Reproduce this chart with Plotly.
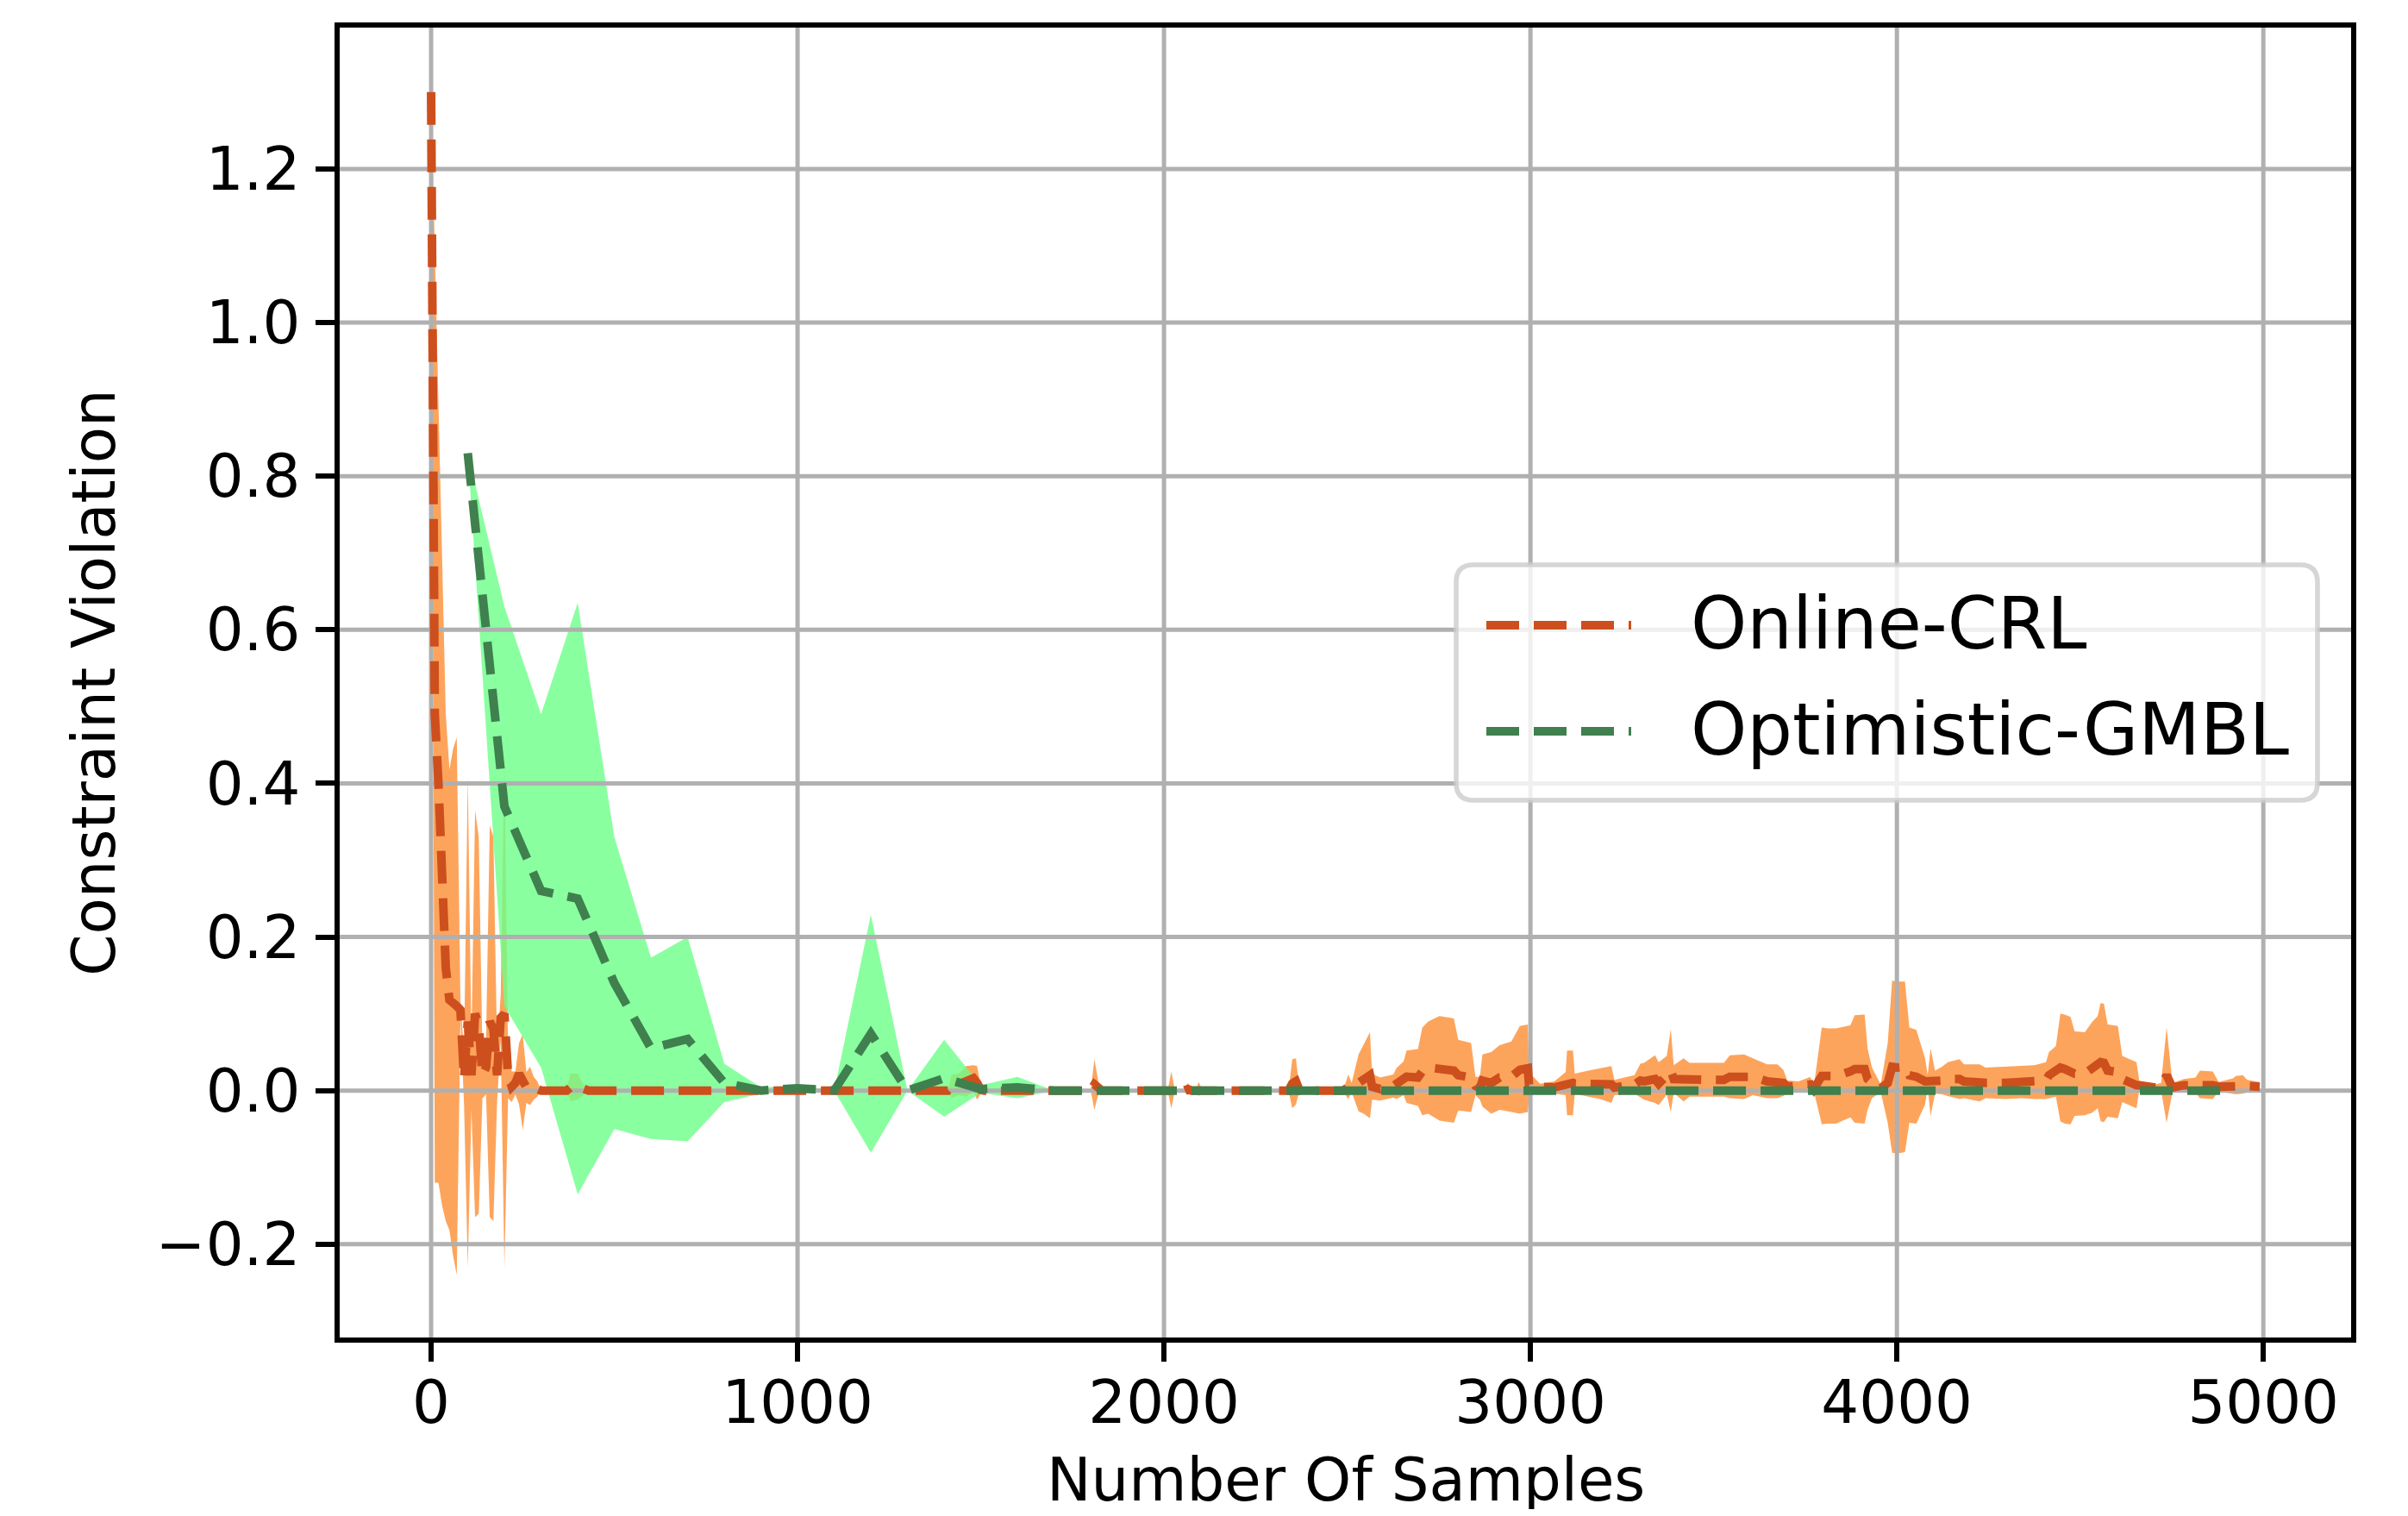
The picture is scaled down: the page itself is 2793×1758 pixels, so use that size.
import numpy as np
import plotly.graph_objects as go

# ---------------- data ----------------
x_ticks = [0, 1000, 2000, 3000, 4000, 5000]
x_ticklabels = ["0", "1000", "2000", "3000", "4000", "5000"]
y_ticks = [-0.2, 0.0, 0.2, 0.4, 0.6, 0.8, 1.0, 1.2]
y_ticklabels = ["\u22120.2", "0.0", "0.2", "0.4", "0.6", "0.8", "1.0", "1.2"]
x_title = "Number Of Samples"
y_title = "Constraint Violation"

# Optimistic-GMBL (mean +/- std)
gmbl_x = [100, 200, 300, 400, 500, 600, 700, 800, 900, 1000, 1100, 1200, 1300, 1400, 1500,
          1600, 1700, 1800, 1900, 2000, 2100, 2200, 2300, 2400, 2500, 2600, 2700, 2800, 2900,
          3000, 3100, 3200, 3300, 3400, 3500, 3600, 3700, 3800, 3900, 4000, 4100, 4200, 4300,
          4400, 4500, 4600, 4700, 4800, 4900]
gmbl_mean = [0.830, 0.370, 0.260, 0.250, 0.140, 0.055, 0.067, 0.010, 0.000, 0.003, 0.000, 0.074,
             0.000, 0.016, 0.002, 0.004, 0.000, 0.000, 0.000, 0.000, 0.000, 0.000, 0.000, 0.000,
             0.000, 0.000, 0.000, 0.000, 0.000, 0.000, 0.000, 0.000, 0.000, 0.000, 0.000, 0.000,
             0.000, 0.000, 0.000, 0.000, 0.000, 0.000, 0.000, 0.000, 0.000, 0.000, 0.000, 0.000,
             0.000]
gmbl_std = [0.000, 0.260, 0.230, 0.385, 0.190, 0.118, 0.133, 0.025, 0.004, 0.004, 0.000, 0.155,
            0.000, 0.050, 0.005, 0.014, 0.000, 0.000, 0.000, 0.000, 0.000, 0.000, 0.000, 0.000,
            0.000, 0.000, 0.000, 0.000, 0.000, 0.000, 0.000, 0.000, 0.000, 0.000, 0.000, 0.000,
            0.000, 0.000, 0.000, 0.000, 0.000, 0.000, 0.000, 0.000, 0.000, 0.000, 0.000, 0.000,
            0.000]

# Online-CRL (mean +/- std)
crl_x = [0, 10, 20, 30, 40, 50, 60, 70, 80, 90, 100, 110, 120, 130, 140, 150, 160, 170, 180, 190,
         200, 210, 220, 230, 240, 250, 260, 270, 280, 290, 300,
         370, 380, 400, 420, 430,
         1410, 1420, 1440, 1460, 1480, 1490, 1500, 1510,
         1800, 1810, 1820, 1830,
         2010, 2020, 2030, 2055, 2065, 2075, 2085, 2095, 2105,
         2340, 2350, 2360, 2370,
         2440, 2490, 2503, 2512, 2531, 2545, 2562, 2568, 2590, 2626, 2634, 2654, 2662, 2693, 2705,
         2721, 2752, 2791, 2803, 2838, 2850, 2862, 2869, 2893, 2916, 2948, 2971, 2993, 2996, 3026,
         3065, 3096, 3100, 3116, 3121, 3158, 3190, 3221, 3229, 3284, 3300,
         3310, 3340, 3350, 3372, 3383, 3391, 3418, 3434, 3481, 3528, 3544, 3583, 3607, 3646, 3674,
         3690, 3701, 3732, 3764, 3773, 3795, 3811, 3834, 3873, 3885, 3912, 3920, 3932, 3956, 3975,
         3987, 4000, 4022, 4034, 4053, 4077, 4084, 4092, 4104, 4123, 4139, 4164,
         4171, 4183, 4226, 4242, 4297, 4340, 4375, 4407, 4415, 4434, 4446, 4458, 4474, 4485, 4513,
         4532, 4548, 4556, 4565, 4575, 4603, 4615, 4654, 4662, 4705, 4721, 4736, 4752, 4783, 4815,
         4827, 4862, 4878, 4917, 4925, 4944, 4956, 4990]
crl_mean = [1.300, 0.490, 0.400, 0.270, 0.160, 0.118, 0.115, 0.110, 0.105, 0.015, 0.090, 0.020,
            0.100, 0.085, 0.020, 0.030, 0.090, 0.080, 0.020, 0.095, 0.100, 0.020, 0.005, 0.010,
            0.022, 0.011, 0.004, 0.006, 0.003, 0.002, 0.000,
            0.000, 0.004, 0.005, 0.000, 0.000,
            0.000, 0.005, 0.008, 0.012, 0.016, 0.010, 0.001, 0.000,
            0.000, 0.008, 0.004, 0.000,
            0.000, 0.001, 0.000, 0.000, 0.002, 0.000, 0.000, 0.002, 0.000,
            0.000, 0.009, 0.012, 0.000,
            0.000, 0.000, 0.005, 0.004, 0.010, 0.015, 0.020, 0.005, 0.002, 0.006, 0.009, 0.016,
            0.018, 0.017, 0.025, 0.030, 0.029, 0.026, 0.020, 0.017, 0.006, 0.003, 0.013, 0.010,
            0.017, 0.018, 0.027, 0.029, 0.008, 0.005, 0.004, 0.009, 0.010, 0.010, 0.009, 0.009,
            0.009, 0.008, 0.004, 0.008, 0.013,
            0.012, 0.015, 0.009, 0.020, 0.026, 0.015, 0.014, 0.014, 0.014, 0.014, 0.018, 0.018,
            0.018, 0.012, 0.012, 0.010, 0.005, 0.007, 0.008, 0.002, 0.019, 0.019, 0.019, 0.025,
            0.028, 0.028, 0.015, 0.010, 0.003, 0.010, 0.031, 0.030, 0.031, 0.020, 0.018, 0.012,
            0.012, 0.011, 0.011, 0.013, 0.015, 0.015,
            0.015, 0.012, 0.010, 0.010, 0.010, 0.011, 0.011, 0.013, 0.020, 0.025, 0.030, 0.028,
            0.026, 0.022, 0.022, 0.030, 0.037, 0.037, 0.036, 0.026, 0.024, 0.015, 0.007, 0.007,
            0.004, 0.005, 0.020, 0.004, 0.007, 0.007, 0.008, 0.007, 0.005, 0.006, 0.007, 0.008,
            0.006, 0.005]
crl_std = [0.000, 0.610, 0.520, 0.420, 0.330, 0.300, 0.330, 0.350, 0.010, 0.035, 0.320, 0.045,
           0.265, 0.245, 0.030, 0.035, 0.255, 0.250, 0.035, 0.030, 0.330, 0.030, 0.020, 0.015,
           0.040, 0.062, 0.020, 0.025, 0.015, 0.010, 0.000,
           0.000, 0.018, 0.017, 0.004, 0.000,
           0.000, 0.015, 0.014, 0.020, 0.017, 0.022, 0.005, 0.000,
           0.000, 0.033, 0.010, 0.000,
           0.000, 0.024, 0.000, 0.000, 0.008, 0.000, 0.000, 0.009, 0.000,
           0.000, 0.032, 0.030, 0.000,
           0.000, 0.002, 0.016, 0.006, 0.037, 0.045, 0.056, 0.017, 0.015, 0.015, 0.020, 0.022,
           0.034, 0.037, 0.057, 0.060, 0.068, 0.068, 0.046, 0.045, 0.012, 0.015, 0.034, 0.040,
           0.042, 0.046, 0.057, 0.057, 0.016, 0.004, 0.008, 0.015, 0.042, 0.042, 0.013, 0.017,
           0.020, 0.024, 0.010, 0.012, 0.022,
           0.024, 0.031, 0.028, 0.025, 0.054, 0.018, 0.028, 0.022, 0.022, 0.022, 0.028, 0.029,
           0.024, 0.022, 0.022, 0.017, 0.008, 0.005, 0.010, 0.002, 0.063, 0.062, 0.062, 0.060,
           0.070, 0.071, 0.040, 0.020, 0.005, 0.052, 0.112, 0.112, 0.111, 0.062, 0.061, 0.030,
           0.008, 0.044, 0.015, 0.018, 0.022, 0.025,
           0.026, 0.022, 0.024, 0.020, 0.021, 0.021, 0.022, 0.024, 0.030, 0.033, 0.070, 0.071,
           0.070, 0.055, 0.054, 0.059, 0.060, 0.077, 0.077, 0.060, 0.060, 0.030, 0.030, 0.004,
           0.004, 0.005, 0.062, 0.006, 0.008, 0.010, 0.018, 0.018, 0.006, 0.010, 0.012, 0.012,
           0.008, 0.006]

series_names = ["Online-CRL", "Optimistic-GMBL"]

# ---------------- styling ----------------
PAGE_W, PAGE_H = 2793, 1758
BODY = 8                                       # default page margin around the plot div
W, H = PAGE_W - 2 * BODY, PAGE_H - 2 * BODY
PL, PR, PT, PB = 394, 2727, 32, 1551          # plot area in page pixels
X_RANGE = [-249.5, 5239.5]
Y_RANGE = [-0.3215, 1.384]

CRL_LINE = "#cd4f1d"
CRL_FILL = "rgb(253,164,92)"
GMBL_LINE = "#3f804e"
GMBL_FILL = "rgba(109,255,136,0.8)"
GRID = "#b0b0b0"
FONT = "DejaVu Sans"
DASH = "38px,17px"
LW = 10

fig = go.Figure()


def add_band(x, mean, std, color):
    m = np.asarray(mean, dtype=float)
    s = np.asarray(std, dtype=float)
    fig.add_trace(go.Scatter(x=x, y=m + s, mode="lines", line=dict(width=0, color=color),
                             hoverinfo="skip", showlegend=False))
    fig.add_trace(go.Scatter(x=x, y=m - s, mode="lines", line=dict(width=0, color=color),
                             fill="tonexty", fillcolor=color, hoverinfo="skip", showlegend=False))


add_band(crl_x, crl_mean, crl_std, CRL_FILL)
add_band(gmbl_x, gmbl_mean, gmbl_std, GMBL_FILL)

# grid lines (matplotlib draws them above the shaded bands, below the lines)
gx, gy = [], []
for v in x_ticks:
    gx += [v, v, None]
    gy += [Y_RANGE[0], Y_RANGE[1], None]
for v in y_ticks:
    gx += [X_RANGE[0], X_RANGE[1], None]
    gy += [v, v, None]
fig.add_trace(go.Scatter(x=gx, y=gy, mode="lines", line=dict(color=GRID, width=5),
                         hoverinfo="skip", showlegend=False))

fig.add_trace(go.Scatter(x=crl_x, y=crl_mean, mode="lines", name=series_names[0],
                         line=dict(color=CRL_LINE, width=LW, dash=DASH), showlegend=False))
fig.add_trace(go.Scatter(x=gmbl_x, y=gmbl_mean, mode="lines", name=series_names[1],
                         line=dict(color=GMBL_LINE, width=LW, dash=DASH), showlegend=False))

axis_common = dict(showgrid=False, zeroline=False, showline=True, linecolor="black",
                   linewidth=5.6, mirror=True, ticks="outside", ticklen=22, tickwidth=5.6,
                   tickcolor="black", automargin=False,
                   tickfont=dict(family=FONT, size=69, color="black"))

fig.update_xaxes(range=X_RANGE, tickmode="array", tickvals=x_ticks, ticktext=x_ticklabels,
                 ticklabelstandoff=-12, **axis_common)
fig.update_yaxes(range=Y_RANGE, tickmode="array", tickvals=y_ticks, ticktext=y_ticklabels,
                 ticklabelstandoff=4,
                 title=dict(text=y_title, font=dict(family=FONT, size=69, color="black"),
                            standoff=27),
                 **axis_common)


# ---------------- legend (matplotlib-like, drawn in paper coordinates) ----------------
def px_x(p):
    return (p - PL) / (PR - PL)


def px_y(p):
    return (PB - p) / (PB - PT)


lx0, lx1, ly0, ly1 = 1689, 2688, 655, 928
rad = 20
x0, x1 = px_x(lx0), px_x(lx1)
yt, yb = px_y(ly0), px_y(ly1)
rx = rad / (PR - PL)
ry = rad / (PB - PT)
path = (f"M {x0+rx},{yt} L {x1-rx},{yt} Q {x1},{yt} {x1},{yt-ry} "
        f"L {x1},{yb+ry} Q {x1},{yb} {x1-rx},{yb} L {x0+rx},{yb} Q {x0},{yb} {x0},{yb+ry} "
        f"L {x0},{yt-ry} Q {x0},{yt} {x0+rx},{yt} Z")
shapes = [dict(type="path", path=path, xref="paper", yref="paper", layer="above",
               fillcolor="rgba(255,255,255,0.8)", line=dict(color="rgba(204,204,204,0.8)", width=5.6))]
annotations = []
rows = [(725, CRL_LINE, series_names[0]), (848, GMBL_LINE, series_names[1])]
for ypx, col, name in rows:
    shapes.append(dict(type="line", xref="paper", yref="paper", layer="above",
                       x0=px_x(1724), x1=px_x(1892), y0=px_y(ypx), y1=px_y(ypx),
                       line=dict(color=col, width=LW, dash=DASH)))
    annotations.append(dict(text=name, xref="paper", yref="paper", x=px_x(1959), y=px_y(ypx - 2),
                            xanchor="left", yanchor="middle", showarrow=False,
                            font=dict(family=FONT, size=83, color="black")))

# x-axis title, placed like matplotlib's (close to the bottom edge of the figure)
annotations.append(dict(text=x_title, xref="paper", yref="paper", x=0.5, y=px_y(1716),
                        xanchor="center", yanchor="middle", showarrow=False,
                        font=dict(family=FONT, size=69, color="black")))

fig.update_layout(width=W, height=H,
                  margin=dict(l=PL - BODY, r=W - (PR - BODY), t=PT - BODY, b=H - (PB - BODY),
                              pad=0, autoexpand=False),
                  paper_bgcolor="white", plot_bgcolor="white",
                  font=dict(family=FONT, size=69, color="black"),
                  showlegend=False, shapes=shapes, annotations=annotations)

fig.write_html("out.html")
